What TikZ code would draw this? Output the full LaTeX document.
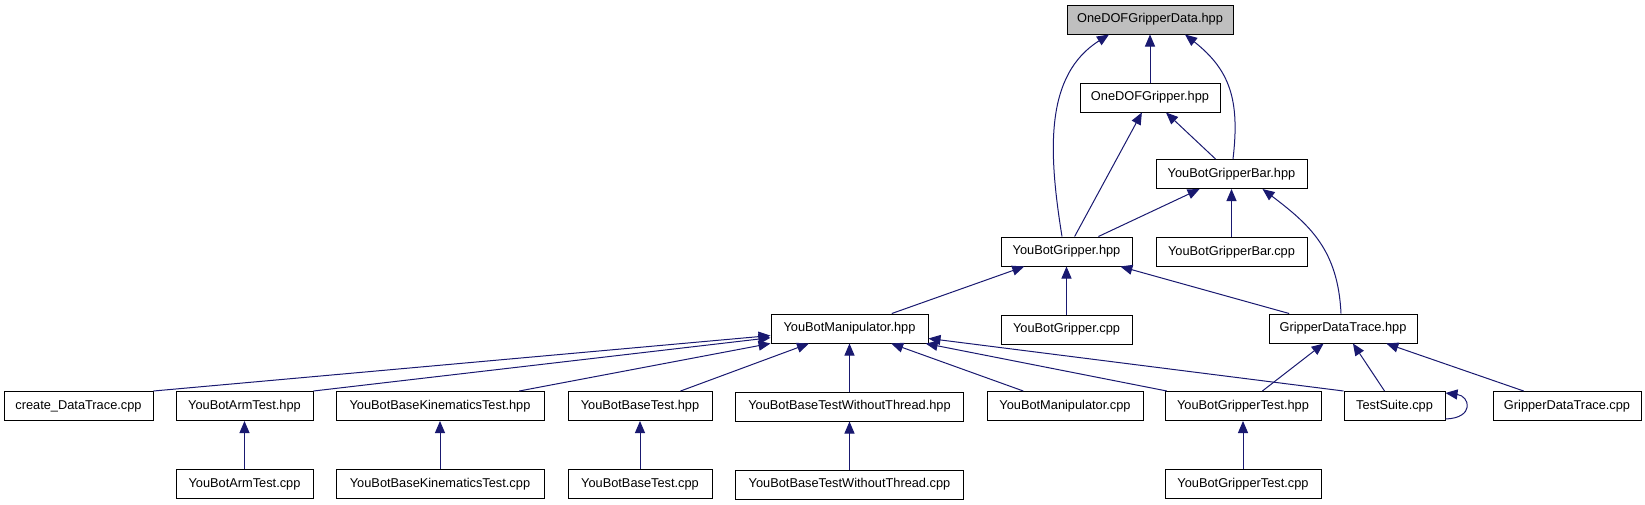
\documentclass[tikz,border=0pt]{standalone}
\usepackage{fontspec}
\setmainfont{Liberation Sans}
\usetikzlibrary{arrows.meta,positioning,calc}
\definecolor{edgeblue}{RGB}{25,25,112}
\definecolor{rootgray}{RGB}{191,191,191}

\begin{document}
\begin{tikzpicture}[
 x=0.75pt, y=-0.75pt,
 node distance=36pt and 20pt,
 filebox/.style={rectangle, draw, line width=0.75pt, minimum width=#1*0.75pt, minimum height=21.75pt, inner sep=0pt, font=\fontsize{9.6}{11}\selectfont},
 rootbox/.style={filebox=#1, fill=rootgray},
 dep/.style={-{Triangle[length=9pt,width=7.5pt]}, line width=0.75pt, color=edgeblue}
]
\useasboundingbox (0,0) rectangle (1645,504);

% Row 0: the header itself
\node[rootbox=166] (data) at (1150,19.5) {OneDOFGripperData.hpp};

% Rows 1-4: gripper headers
\node[filebox=140, below=of data] (onedof) {OneDOFGripper.hpp};
\node[filebox=151] (gbar) at (1231.5,174) {YouBotGripperBar.hpp};
\node[filebox=131] (gripper) at (1066.5,251.5) {YouBotGripper.hpp};
\node[filebox=151, below=of gbar] (gbarcpp) {YouBotGripperBar.cpp};
\node[filebox=157] (manip) at (849.5,328.5) {YouBotManipulator.hpp};
\node[filebox=131, below=of gripper] (grippercpp) {YouBotGripper.cpp};
\node[filebox=148] (trace) at (1343,328.5) {GripperDataTrace.hpp};

% Row 5: tests and sources
\node[filebox=149] (create) at (78.5,406) {create\_DataTrace.cpp};
\node[filebox=137] (armtest) at (244.5,406) {YouBotArmTest.hpp};
\node[filebox=208] (kintest) at (440,406) {YouBotBaseKinematicsTest.hpp};
\node[filebox=144] (basetest) at (640,406) {YouBotBaseTest.hpp};
\node[filebox=228, below=of manip] (wothread) {YouBotBaseTestWithoutThread.hpp};
\node[filebox=156] (manipcpp) at (1065,406) {YouBotManipulator.cpp};
\node[filebox=156] (grippertest) at (1243,406) {YouBotGripperTest.hpp};
\node[filebox=101] (testsuite) at (1394.5,406) {TestSuite.cpp};
\node[filebox=148] (tracecpp) at (1567,406) {GripperDataTrace.cpp};

% Row 6: test sources
\node[filebox=137, below=of armtest] (armcpp) {YouBotArmTest.cpp};
\node[filebox=208, below=of kintest] (kincpp) {YouBotBaseKinematicsTest.cpp};
\node[filebox=144, below=of basetest] (basecpp) {YouBotBaseTest.cpp};
\node[filebox=228, below=of wothread] (wothreadcpp) {YouBotBaseTestWithoutThread.cpp};
\node[filebox=156, below=of grippertest] (grippertestcpp) {YouBotGripperTest.cpp};

% Edges to the header
\draw[dep] (onedof) -- (data);
\draw[dep] ($(gripper.north)+(-4.5,0)$) .. controls (1048,150) and (1045,75) .. ($(data.south)+(-41,0)$);
\draw[dep] ($(gbar.north)+(1.5,0)$) .. controls (1240,100) and (1230,70) .. ($(data.south)+(35,0)$);

% Edges between the gripper headers
\draw[dep] (gripper) -- (onedof);
\draw[dep] (gbar) -- (onedof);
\draw[dep] (gripper) -- (gbar);
\draw[dep] (gbarcpp) -- (gbar);
\draw[dep] ($(trace.north)+(-2,0)$) .. controls (1338,250) and (1310,225) .. ($(gbar.south)+(31,0)$);
\draw[dep] (manip) -- (gripper);
\draw[dep] (grippercpp) -- (gripper);
\draw[dep] (trace) -- (gripper);

% Edges to YouBotManipulator.hpp
\draw[dep] (create.north east) -- (manip);
\draw[dep] (armtest.north east) -- (manip);
\draw[dep] (kintest) -- (manip);
\draw[dep] (basetest) -- (manip);
\draw[dep] (wothread) -- (manip);
\draw[dep] (manipcpp) -- (manip);
\draw[dep] (grippertest) -- (manip);
\draw[dep] (testsuite.north west) -- (manip);

% Edges to GripperDataTrace.hpp
\draw[dep] (grippertest) -- (trace);
\draw[dep] (testsuite) -- (trace);
\draw[dep] (tracecpp) -- (trace);
\draw[dep] ($(testsuite.east)+(0,13)$) .. controls (1475,418) and (1470,396) .. ($(testsuite.east)+(0,-13)$);

% Bottom row
\draw[dep] (armcpp) -- (armtest);
\draw[dep] (kincpp) -- (kintest);
\draw[dep] (basecpp) -- (basetest);
\draw[dep] (wothreadcpp) -- (wothread);
\draw[dep] (grippertestcpp) -- (grippertest);

\end{tikzpicture}
\end{document}
